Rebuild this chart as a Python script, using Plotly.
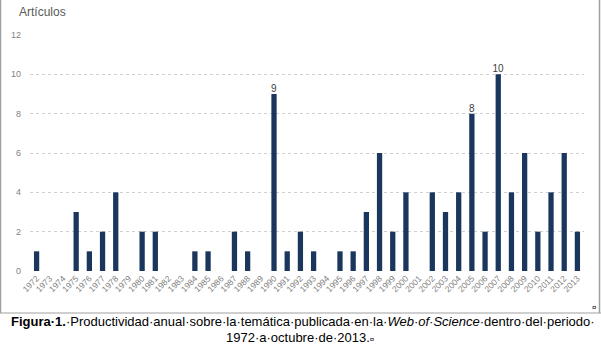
import plotly.graph_objects as go

years = [str(y) for y in range(1972, 2014)]
articles = [1, 0, 0, 3, 1, 2, 4, 0, 2, 2, 0, 0, 1, 1, 0, 2, 1, 0, 9, 1, 2,
            1, 0, 1, 1, 3, 6, 2, 4, 0, 4, 3, 4, 8, 2, 10, 4, 6, 2, 4, 6, 2]
labeled_years = ["1990", "2005", "2007"]
y_ticks = [0, 2, 4, 6, 8, 10, 12]

W, H = 601, 346
ML, MR, MT, MB = 30, 17, 35, 75
PW, PH = W - ML - MR, H - MT - MB

def px(x):
    return (x - ML) / PW

def py(y):
    return (H - MB - y) / PH

text = [str(v) if y in labeled_years else "" for y, v in zip(years, articles)]

fig = go.Figure(go.Bar(
    x=years, y=articles, text=text, textposition="outside",
    textfont=dict(family="Liberation Sans Narrow, Liberation Sans, Arial", size=10, color="#404040"),
    marker=dict(color="#1a365d", line=dict(width=0)),
    cliponaxis=False,
))

fig.update_layout(
    width=W, height=H, margin=dict(l=ML, r=MR, t=MT, b=MB),
    paper_bgcolor="white", plot_bgcolor="white", bargap=0.6,
    showlegend=False, uniformtext=dict(minsize=10, mode="show"),
    xaxis=dict(type="category", tickangle=-45, showgrid=False, showline=False,
               tickfont=dict(family="Liberation Sans Narrow, Liberation Sans", size=8.5, color="#7f7f7f"),
               ticks="", ticklen=0),
    yaxis=dict(range=[0, 12], tickvals=y_ticks, showgrid=True, gridcolor="#d0d0d0",
               griddash="dot", gridwidth=1, zeroline=False, showline=False,
               tickfont=dict(family="Liberation Sans Narrow, Liberation Sans", size=9, color="#7f7f7f"),
               ticks="", ticklabelstandoff=8),
    font=dict(family="Liberation Sans"),
)

annotations = [
    dict(text="Artículos", x=px(17), y=py(12), xref="paper", yref="paper",
         xanchor="left", yanchor="middle", showarrow=False,
         font=dict(family="Liberation Sans Narrow, Liberation Sans", size=12, color="#595959")),
    dict(text="<b>Figura·1.</b>·Productividad·anual·sobre·la·temática·publicada·en·la·<i>Web·of·Science</i>·dentro·del·periodo·",
         x=px(303), y=py(321), xref="paper", yref="paper",
         xanchor="center", yanchor="middle", showarrow=False,
         font=dict(family="Liberation Sans, Arial", size=13, color="black")),
    dict(text="1972·a·octubre·de·2013.<span style='font-size:8px'>¤</span>",
         x=px(300), y=py(337), xref="paper", yref="paper",
         xanchor="center", yanchor="middle", showarrow=False,
         font=dict(family="Liberation Sans, Arial", size=13, color="black")),
    dict(text="¤", x=px(594), y=py(307), xref="paper", yref="paper",
         xanchor="center", yanchor="middle", showarrow=False,
         font=dict(family="Liberation Sans", size=8, color="black")),
]
fig.update_layout(annotations=annotations)

shapes = [
    dict(type="line", xref="paper", yref="paper", x0=px(0.5), x1=px(0.5), y0=py(0), y1=py(313),
         line=dict(color="#a0a0a0", width=1.5)),
    dict(type="line", xref="paper", yref="paper", x0=px(599.5), x1=px(599.5), y0=py(0), y1=py(313),
         line=dict(color="#a0a0a0", width=1.5)),
    dict(type="line", xref="paper", yref="paper", x0=px(0), x1=px(W), y0=py(313), y1=py(313),
         line=dict(color="#a0a0a0", width=1)),
]
fig.update_layout(shapes=shapes)

fig.write_html("out.html")
